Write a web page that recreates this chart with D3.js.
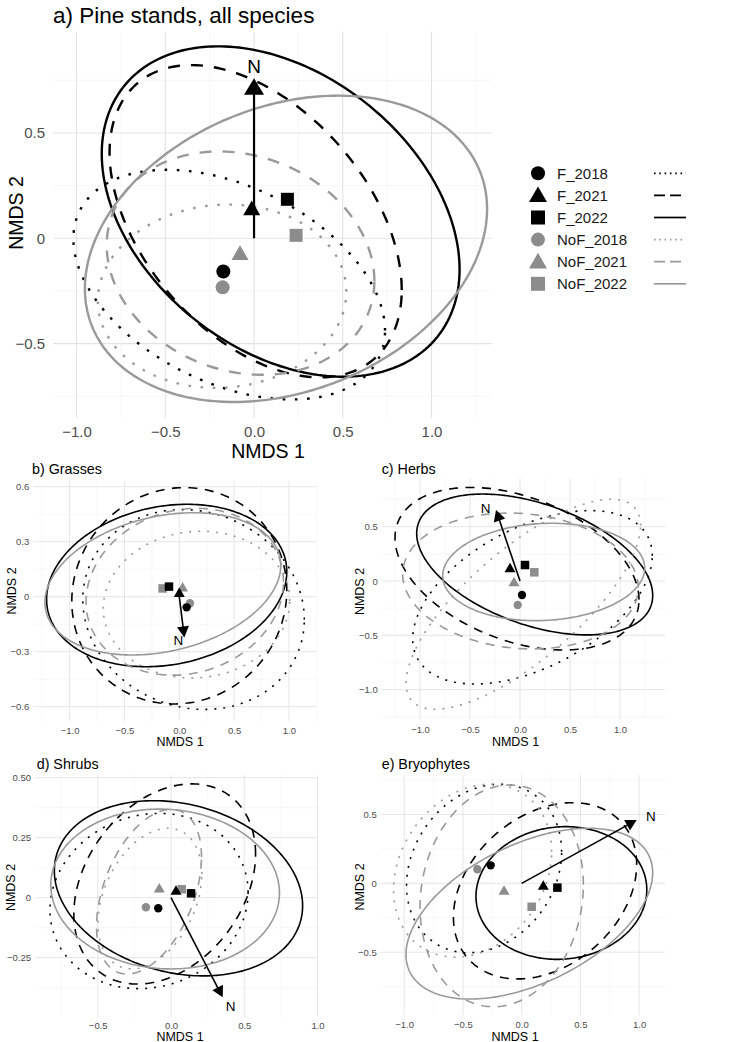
<!DOCTYPE html>
<html>
<head>
<meta charset="utf-8">
<script src="https://cdn.jsdelivr.net/npm/d3@7"></script>
<style>
  body { margin: 0; background: #fff; }
  svg { display: block; font-family: "Liberation Sans", Arial, sans-serif; }
</style>
</head>
<body>
<svg id="chart" width="750" height="1042"></svg>
<script>
// Groups (fertilised / not fertilised x year)
const groups = ["F_2018", "F_2021", "F_2022", "NoF_2018", "NoF_2021", "NoF_2022"];
const titles = ["a) Pine stands, all species", "b) Grasses", "c) Herbs", "d) Shrubs", "e) Bryophytes"];

// Group centroids [NMDS1, NMDS2], same order as groups
const centroidsA = [[-0.173, -0.158], [-0.013, 0.133], [0.188, 0.185], [-0.177, -0.233], [-0.079, -0.08], [0.237, 0.014]];
const centroidsB = [[0.067, -0.058], [0.0, 0.015], [-0.094, 0.055], [0.097, -0.036], [0.03, 0.045], [-0.152, 0.045]];
const centroidsC = [[0.02, -0.129], [-0.1, 0.11], [0.05, 0.147], [-0.023, -0.22], [-0.06, -0.02], [0.143, 0.08]];
const centroidsD = [[-0.087, -0.044], [0.034, 0.025], [0.137, 0.018], [-0.171, -0.04], [-0.08, 0.035], [0.073, 0.035]];
const centroidsE = [[-0.264, 0.131], [0.184, -0.024], [0.304, -0.031], [-0.377, 0.102], [-0.15, -0.06], [0.085, -0.17]];

// Group ellipses [centre x, centre y, half-width x, half-height y, correlation]
const ellipsesA = [[-0.14, -0.22, 0.878, 0.545, -0.4], [0.009, 0.081, 0.823, 0.741, -0.44], [0.15, 0.127, 1.008, 0.784, -0.35],
                   [-0.18, -0.275, 0.70, 0.435, 0.05], [-0.076, -0.118, 0.754, 0.53, -0.16], [0.18, -0.05, 1.133, 0.727, 0.26]];
const ellipsesB = [[0.13, -0.07, 1.01, 0.545, -0.1], [0.0, 0.005, 0.98, 0.59, 0.05], [-0.115, 0.061, 1.095, 0.443, 0.17],
                   [0.157, -0.043, 0.85, 0.40, 0.05], [0.05, 0.027, 0.90, 0.455, 0.12], [-0.15, 0.07, 1.075, 0.388, 0.26]];
const ellipsesC = [[0.125, -0.15, 1.198, 0.798, 0.48], [-0.03, 0.113, 1.22, 0.748, -0.38], [0.147, 0.152, 1.18, 0.648, -0.44],
                   [0.033, -0.214, 1.173, 0.966, 0.75], [0.005, 0.0, 1.178, 0.625, -0.1], [0.237, 0.083, 1.01, 0.448, 0.08]];
const ellipsesD = [[-0.15, -0.014, 0.676, 0.365, 0.1], [-0.043, 0.057, 0.62, 0.417, 0.3], [0.051, 0.039, 0.847, 0.365, -0.2],
                   [-0.144, -0.004, 0.354, 0.293, 0.35], [-0.15, 0.025, 0.358, 0.343, 0.42], [-0.04, 0.036, 0.78, 0.333, -0.05]];
const ellipsesE = [[-0.32, 0.108, 0.66, 0.612, 0.2], [0.199, -0.054, 0.78, 0.64, 0.3], [0.338, -0.07, 0.727, 0.482, 0.05],
                   [-0.418, 0.092, 0.673, 0.628, 0.22], [-0.17, -0.091, 0.695, 0.805, 0.1], [0.065, -0.22, 1.05, 0.62, 0.48]];

// Fitted N vector tip and its label
const vectorTips = [[0, 0.759], [0.046, -0.222], [-0.24, 0.653], [0.353, -0.415], [0.979, 0.46]];
const vectorLabels = [[0, 0.818], [-0.009, -0.236], [-0.343, 0.669], [0.407, -0.454], [1.1, 0.489]];

// Axis limits
const xDomains = [[-1.131, 1.339], [-1.331, 1.251], [-1.383, 1.45], [-0.928, 1.003], [-1.2, 1.22]];
const yDomains = [[-0.853, 0.98], [-0.678, 0.631], [-1.279, 0.945], [-0.496, 0.511], [-0.956, 0.787]];

// Ticks and labels
const xTicks = [[-1, -0.5, 0, 0.5, 1], [-1, -0.5, 0, 0.5, 1], [-1, -0.5, 0, 0.5, 1], [-0.5, 0, 0.5, 1], [-1, -0.5, 0, 0.5, 1]];
const xTickLabels = [["−1.0", "−0.5", "0.0", "0.5", "1.0"], ["−1.0", "−0.5", "0.0", "0.5", "1.0"], ["−1.0", "−0.5", "0.0", "0.5", "1.0"],
                     ["−0.5", "0.0", "0.5", "1.0"], ["−1.0", "−0.5", "0.0", "0.5", "1.0"]];
const yTicks = [[-0.5, 0, 0.5], [-0.6, -0.3, 0, 0.3, 0.6], [-1, -0.5, 0, 0.5], [-0.25, 0, 0.25, 0.5], [-0.5, 0, 0.5]];
const yTickLabels = [["−0.5", "0", "0.5"], ["−0.6", "−0.3", "0", "0.3", "0.6"], ["−1.0", "−0.5", "0", "0.5"],
                     ["−0.25", "0", "0.25", "0.50"], ["−0.5", "0", "0.5"]];
const xMinor = [[-0.75, -0.25, 0.25, 0.75, 1.25], [-1.25, -0.75, -0.25, 0.25, 0.75, 1.25], [-1.25, -0.75, -0.25, 0.25, 0.75, 1.25],
                [-0.75, -0.25, 0.25, 0.75], [-0.75, -0.25, 0.25, 0.75]];
const yMinor = [[-0.75, -0.25, 0.25, 0.75], [-0.45, -0.15, 0.15, 0.45], [-1.25, -0.75, -0.25, 0.25, 0.75],
                [-0.375, -0.125, 0.125, 0.375], [-0.75, -0.25, 0.25, 0.75]];

const centroids = [centroidsA, centroidsB, centroidsC, centroidsD, centroidsE];
const ellipses = [ellipsesA, ellipsesB, ellipsesC, ellipsesD, ellipsesE];

// Page layout (pixels)
const layout = [
  { left: 53.3, right: 491.7, top: 31.8, bottom: 418, titleX: 53, titleY: 23, xtX: 268, xtY: 458, ytX: 23, ytY: 213 },
  { left: 33.3, right: 316.5, top: 481, bottom: 721, titleX: 32, titleY: 474, xtX: 180, xtY: 746, ytX: 16, ytY: 591 },
  { left: 381.7, right: 665, top: 478.3, bottom: 720, titleX: 381.7, titleY: 473.5, xtX: 515.5, xtY: 746, ytX: 363.5, ytY: 591.5 },
  { left: 35, right: 318, top: 775, bottom: 1016.7, titleX: 36.7, titleY: 768.5, xtX: 180, xtY: 1040.5, ytX: 15, ytY: 887.5 },
  { left: 380.7, right: 665, top: 775, bottom: 1015, titleX: 381.7, titleY: 769, xtX: 515, xtY: 1040.5, ytX: 364, ytY: 887 }
];

const big = { tick: 15, axisTitle: 19.5, title: 22.5, nLabel: 19, lw: 2.4, dotted: "2.6,9.6", dashed: "12,11",
  circle: 7, square: 13, tri: 17, shaft: 2.2, headL: 16.5, headW: 10, xPad: 8.4, yPad: 8.3, major: 1.1, minor: 0.6 };
const small = { tick: 9.5, axisTitle: 12.5, title: 14.3, nLabel: 13.5, lw: 1.6, dotted: "2,7", dashed: "9,7.5",
  circle: 4.2, square: 8.5, tri: 11, shaft: 1.6, headL: 11, headW: 6, xPad: 5.8, yPad: 4, major: 0.9, minor: 0.5 };

const BLACK = "#000000";
const GREY_PT = "#8c8c8c";
const GREY_LN = "#9a9a9a";
const isGrey = i => i >= 3;
const shapeOf = i => [d3.symbolCircle, d3.symbolTriangle, d3.symbolSquare][i % 3];

function symbolSize(i, st) {
  const k = i % 3;
  if (k === 0) return Math.PI * st.circle * st.circle;
  if (k === 1) return Math.sqrt(3) / 4 * st.tri * st.tri;
  return st.square * st.square;
}

function dashOf(i, st) {
  const k = i % 3;
  return k === 0 ? st.dotted : (k === 1 ? st.dashed : null);
}

function ellipsePoints(e) {
  const [cx, cy, rx, ry, r] = e;
  const s = Math.sqrt(1 - r * r);
  return d3.range(0, 2 * Math.PI, Math.PI / 120)
    .map(t => [cx + rx * Math.cos(t), cy + ry * (r * Math.cos(t) + s * Math.sin(t))]);
}

const svg = d3.select("#chart");

function drawPanel(p) {
  const L = layout[p];
  const st = p === 0 ? big : small;
  const x = d3.scaleLinear().domain(xDomains[p]).range([L.left, L.right]);
  const y = d3.scaleLinear().domain(yDomains[p]).range([L.bottom, L.top]);
  const g = svg.append("g");

  // grid
  const grid = g.append("g");
  grid.selectAll(".vminor").data(xMinor[p]).join("line")
    .attr("x1", d => x(d)).attr("x2", d => x(d)).attr("y1", L.top).attr("y2", L.bottom)
    .attr("stroke", "#f0f0f0").attr("stroke-width", st.minor);
  grid.selectAll(".hminor").data(yMinor[p]).join("line")
    .attr("y1", d => y(d)).attr("y2", d => y(d)).attr("x1", L.left).attr("x2", L.right)
    .attr("stroke", "#f0f0f0").attr("stroke-width", st.minor);
  grid.append("g").selectAll("line").data(xTicks[p]).join("line")
    .attr("x1", d => x(d)).attr("x2", d => x(d)).attr("y1", L.top).attr("y2", L.bottom)
    .attr("stroke", "#e3e3e3").attr("stroke-width", st.major);
  grid.append("g").selectAll("line").data(yTicks[p]).join("line")
    .attr("y1", d => y(d)).attr("y2", d => y(d)).attr("x1", L.left).attr("x2", L.right)
    .attr("stroke", "#e3e3e3").attr("stroke-width", st.major);

  // axes (labels only, theme_minimal)
  const xAxis = g.append("g").attr("transform", `translate(0,${L.bottom})`)
    .call(d3.axisBottom(x).tickValues(xTicks[p]).tickFormat((d, i) => xTickLabels[p][i]).tickSize(0).tickPadding(st.xPad));
  const yAxis = g.append("g").attr("transform", `translate(${L.left},0)`)
    .call(d3.axisLeft(y).tickValues(yTicks[p]).tickFormat((d, i) => yTickLabels[p][i]).tickSize(0).tickPadding(st.yPad));
  [xAxis, yAxis].forEach(a => {
    a.select(".domain").remove();
    a.selectAll("text").attr("fill", "#4d4d4d").style("font-size", st.tick + "px")
      .style("font-family", "Liberation Sans, Arial, sans-serif");
  });

  // ellipses
  const line = d3.line().x(d => x(d[0])).y(d => y(d[1])).curve(d3.curveLinearClosed);
  g.append("g").selectAll("path").data(ellipses[p]).join("path")
    .attr("d", d => line(ellipsePoints(d)))
    .attr("fill", "none")
    .attr("stroke", (d, i) => isGrey(i) ? GREY_LN : BLACK)
    .attr("stroke-width", st.lw)
    .attr("stroke-dasharray", (d, i) => dashOf(i, st));

  // centroids (NoF drawn first, F on top)
  const order = [3, 4, 5, 0, 1, 2];
  g.append("g").selectAll("path").data(order).join("path")
    .attr("transform", i => `translate(${x(centroids[p][i][0])},${y(centroids[p][i][1])})`)
    .attr("d", i => d3.symbol().type(shapeOf(i)).size(symbolSize(i, st))())
    .attr("fill", i => isGrey(i) ? GREY_PT : BLACK);

  // N vector
  const x0 = x(0), y0 = y(0);
  const x1 = x(vectorTips[p][0]), y1 = y(vectorTips[p][1]);
  const len = Math.hypot(x1 - x0, y1 - y0);
  const ux = (x1 - x0) / len, uy = (y1 - y0) / len;
  const bx = x1 - ux * st.headL, by = y1 - uy * st.headL;
  g.append("line").attr("x1", x0).attr("y1", y0).attr("x2", bx + ux * 2).attr("y2", by + uy * 2)
    .attr("stroke", BLACK).attr("stroke-width", st.shaft);
  g.append("path")
    .attr("d", `M${x1},${y1}L${bx - uy * st.headW},${by + ux * st.headW}L${bx + uy * st.headW},${by - ux * st.headW}Z`)
    .attr("fill", BLACK);
  g.append("text").attr("x", x(vectorLabels[p][0])).attr("y", y(vectorLabels[p][1]))
    .attr("text-anchor", "middle").attr("dy", "0.36em")
    .style("font-size", st.nLabel + "px").text("N");

  // titles
  g.append("text").attr("x", L.titleX).attr("y", L.titleY).style("font-size", st.title + "px").text(titles[p]);
  g.append("text").attr("x", L.xtX).attr("y", L.xtY).attr("text-anchor", "middle")
    .style("font-size", st.axisTitle + "px").text("NMDS 1");
  g.append("text").attr("transform", `translate(${L.ytX},${L.ytY}) rotate(-90)`).attr("text-anchor", "middle")
    .style("font-size", st.axisTitle + "px").text("NMDS 2");
}

d3.range(5).forEach(drawPanel);

// Legend
const legend = svg.append("g");
const legY = i => 173.3 + i * 22.1;
const legStyle = { circle: 7, tri: 18, square: 14 };
legend.selectAll(".sym").data(groups).join("path")
  .attr("transform", (d, i) => `translate(538,${legY(i) + (i % 3 === 1 ? 1.5 : 0)})`)
  .attr("d", (d, i) => d3.symbol().type(shapeOf(i)).size(symbolSize(i, legStyle))())
  .attr("fill", (d, i) => isGrey(i) ? GREY_PT : BLACK);
legend.selectAll(".lab").data(groups).join("text")
  .attr("x", 557).attr("y", (d, i) => legY(i)).attr("dy", "0.35em")
  .style("font-size", "15px").attr("fill", "#1a1a1a").text(d => d);
legend.selectAll(".key").data(groups).join("line")
  .attr("x1", 654).attr("x2", 686).attr("y1", (d, i) => legY(i)).attr("y2", (d, i) => legY(i))
  .attr("stroke", (d, i) => isGrey(i) ? GREY_LN : BLACK)
  .attr("stroke-width", 1.7)
  .attr("stroke-dasharray", (d, i) => [ "1.6,3.7", "11,5", null ][i % 3]);
</script>
</body>
</html>
